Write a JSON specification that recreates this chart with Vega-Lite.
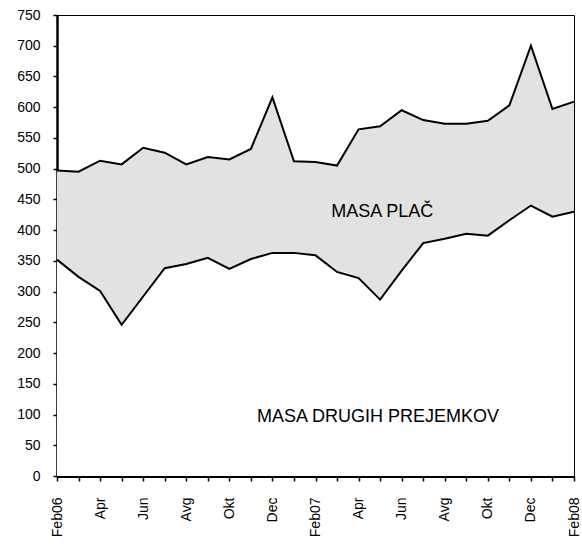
{
  "$schema": "https://vega.github.io/schema/vega-lite/v6.json",
  "width": 517,
  "height": 461,
  "autosize": {"type": "none"},
  "padding": {"left": 57, "top": 15, "right": 8, "bottom": 69},
  "background": "white",
  "config": {
    "view": {"stroke": "black", "strokeWidth": 1},
    "font": "Liberation Sans",
    "axis": {"domainColor": "black", "tickColor": "black", "labelColor": "black", "grid": false, "title": null, "labelFont": "Liberation Sans"},
    "axisY": {"labelFontSize": 14, "labelPadding": 13, "tickSize": 4, "tickWidth": 1.5, "domainWidth": 2.5, "labelOverlap": false},
    "axisX": {"labelFontSize": 14, "labelPadding": 16, "tickSize": 5, "tickWidth": 1.5, "domainWidth": 3, "labelOverlap": false}
  },
  "data": {
    "values": [
      {"i": 0, "total": 497, "drugi": 352},
      {"i": 1, "total": 495, "drugi": 324},
      {"i": 2, "total": 513, "drugi": 301},
      {"i": 3, "total": 507, "drugi": 246},
      {"i": 4, "total": 534, "drugi": 292},
      {"i": 5, "total": 526, "drugi": 338},
      {"i": 6, "total": 507, "drugi": 345},
      {"i": 7, "total": 519, "drugi": 355},
      {"i": 8, "total": 515, "drugi": 337},
      {"i": 9, "total": 532, "drugi": 353},
      {"i": 10, "total": 616, "drugi": 363},
      {"i": 11, "total": 512, "drugi": 363},
      {"i": 12, "total": 511, "drugi": 359},
      {"i": 13, "total": 505, "drugi": 332},
      {"i": 14, "total": 564, "drugi": 322},
      {"i": 15, "total": 569, "drugi": 287},
      {"i": 16, "total": 595, "drugi": 334},
      {"i": 17, "total": 579, "drugi": 379},
      {"i": 18, "total": 573, "drugi": 386},
      {"i": 19, "total": 573, "drugi": 394},
      {"i": 20, "total": 578, "drugi": 391},
      {"i": 21, "total": 603, "drugi": 416},
      {"i": 22, "total": 700, "drugi": 440},
      {"i": 23, "total": 597, "drugi": 422},
      {"i": 24, "total": 609, "drugi": 430}
    ]
  },
  "encoding": {
    "x": {
      "field": "i",
      "type": "quantitative",
      "scale": {"domain": [0, 24], "nice": false, "zero": false},
      "axis": {
        "values": [0,1,2,3,4,5,6,7,8,9,10,11,12,13,14,15,16,17,18,19,20,21,22,23,24],
        "labelExpr": "['Feb06','','Apr','','Jun','','Avg','','Okt','','Dec','','Feb07','','Apr','','Jun','','Avg','','Okt','','Dec','','Feb08'][datum.value]",
        "labelAngle": -90,
        "labelAlign": "right",
        "labelBaseline": "middle",
        "labelBound": false,
        "labelFlush": false
      }
    }
  },
  "layer": [
    {
      "mark": {"type": "area", "fill": "#e2e2e2", "opacity": 1},
      "encoding": {
        "y": {
          "field": "total",
          "type": "quantitative",
          "scale": {"domain": [0, 750], "nice": false},
          "axis": {"values": [0,50,100,150,200,250,300,350,400,450,500,550,600,650,700,750]}
        }
      }
    },
    {
      "mark": {"type": "area", "fill": "white", "opacity": 1},
      "encoding": {"y": {"field": "drugi", "type": "quantitative", "axis": {"values": [0,50,100,150,200,250,300,350,400,450,500,550,600,650,700,750]}}}
    },
    {
      "mark": {"type": "line", "color": "black", "strokeWidth": 2},
      "encoding": {"y": {"field": "total", "type": "quantitative", "axis": {"values": [0,50,100,150,200,250,300,350,400,450,500,550,600,650,700,750]}}}
    },
    {
      "mark": {"type": "line", "color": "black", "strokeWidth": 2},
      "encoding": {"y": {"field": "drugi", "type": "quantitative", "axis": {"values": [0,50,100,150,200,250,300,350,400,450,500,550,600,650,700,750]}}}
    },
    {
      "data": {
        "values": [
          {"i": 15.1, "v": 429, "label": "MASA PLAČ"},
          {"i": 14.9, "v": 96, "label": "MASA DRUGIH PREJEMKOV"}
        ]
      },
      "mark": {"type": "text", "font": "Liberation Sans", "fontSize": 18, "color": "black", "align": "center", "baseline": "middle"},
      "encoding": {
        "y": {"field": "v", "type": "quantitative", "axis": {"values": [0,50,100,150,200,250,300,350,400,450,500,550,600,650,700,750]}},
        "text": {"field": "label"}
      }
    }
  ]
}
